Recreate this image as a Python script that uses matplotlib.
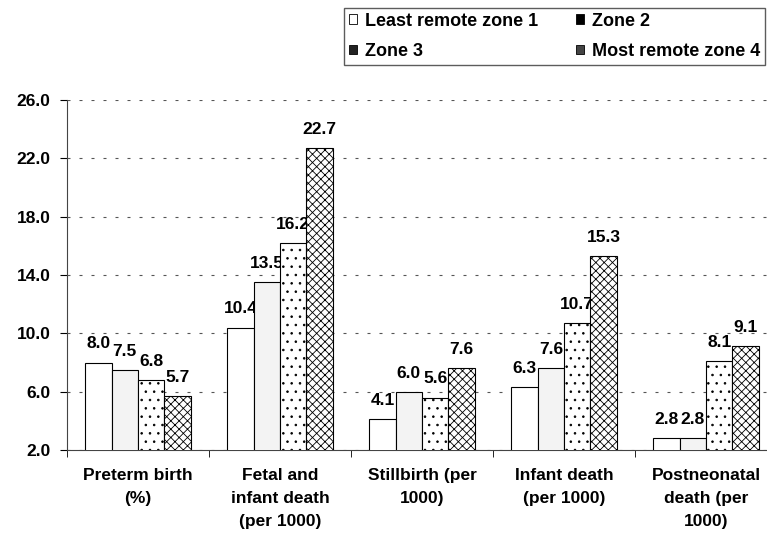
import matplotlib.pyplot as plt
import numpy as np
from matplotlib.patches import Patch

plt.rcParams['font.family'] = ['Liberation Sans', 'DejaVu Sans']
plt.rcParams['font.weight'] = 'bold'
plt.rcParams['hatch.linewidth'] = 0.6

# data
categories = ['Preterm birth\n(%)', 'Fetal and\ninfant death\n(per 1000)',
              'Stillbirth (per\n1000)', 'Infant death\n(per 1000)',
              'Postneonatal\ndeath (per\n1000)']
zones = ['Least remote zone 1', 'Zone 2', 'Zone 3', 'Most remote zone 4']
zone1 = [8.0, 10.4, 4.1, 6.3, 2.8]
zone2 = [7.5, 13.5, 6.0, 7.6, 2.8]
zone3 = [6.8, 16.2, 5.6, 10.7, 8.1]
zone4 = [5.7, 22.7, 7.6, 15.3, 9.1]
yticks = [2, 6, 10, 14, 18, 22, 26]

series = [zone1, zone2, zone3, zone4]
faces = ['white', '#f3f3f3', 'white', 'white']
hatches = [None, None, '..', 'xxxx']
legend_faces = ['white', 'black', '#222222', '#444444']

fig = plt.figure(figsize=(7.67, 5.37), dpi=100)
ax = fig.add_axes([67 / 767, 87 / 537, 710 / 767, 350 / 537])

x = np.arange(len(categories))
w = 0.185
for i, vals in enumerate(series):
    pos = x + (i - 1.5) * w
    bars = ax.bar(pos, vals, w, bottom=0, color=faces[i], edgecolor='black',
                  linewidth=0.8, hatch=hatches[i], zorder=3)
    for b, v in zip(bars, vals):
        ax.annotate(f'{v:.1f}', (b.get_x() + b.get_width() / 2, v),
                    xytext=(0, 8), textcoords='offset points',
                    ha='center', va='bottom', fontsize=12.5, fontweight='bold')

ax.set_ylim(2, 26)
ax.set_xlim(-0.5, 4.5)
ax.set_yticks(yticks, [f'{t:.1f}' for t in yticks])
ax.set_xticks(x, categories)
ax.set_xticks(np.arange(-0.5, 5, 1), minor=True)
ax.tick_params(axis='x', which='major', length=0, pad=13, labelsize=12.5)
ax.tick_params(axis='x', which='minor', length=5, direction='out')
ax.tick_params(axis='y', length=5, direction='out', pad=7, labelsize=12.5)
for lab in ax.get_xticklabels():
    lab.set_linespacing(1.65)

ax.grid(axis='y', color='#555555', linewidth=0.8, linestyle=(0, (2.7, 8.1)), zorder=0)
for s in ['top', 'right']:
    ax.spines[s].set_visible(False)
ax.spines['left'].set_color('#444444')
ax.spines['bottom'].set_color('#444444')

handles = [Patch(facecolor=legend_faces[i], edgecolor='black', linewidth=0.6)
           for i in range(4)]
order = [0, 2, 1, 3]
leg = fig.legend([handles[i] for i in order], [zones[i] for i in order],
                 loc='upper left',
                 bbox_to_anchor=(344 / 767, 1 - 65 / 537, 421 / 767, 57 / 537),
                 mode='expand', ncol=2, fontsize=13, frameon=True, fancybox=False,
                 borderaxespad=0, borderpad=0.25, handlelength=0.45,
                 handleheight=0.45, handletextpad=0.45, columnspacing=1.6,
                 labelspacing=0.75)
leg.get_frame().set_edgecolor('#333333')
leg.get_frame().set_linewidth(1.0)
for t in leg.get_texts():
    t.set_fontweight('bold')

fig.savefig('out.png', dpi=100)
